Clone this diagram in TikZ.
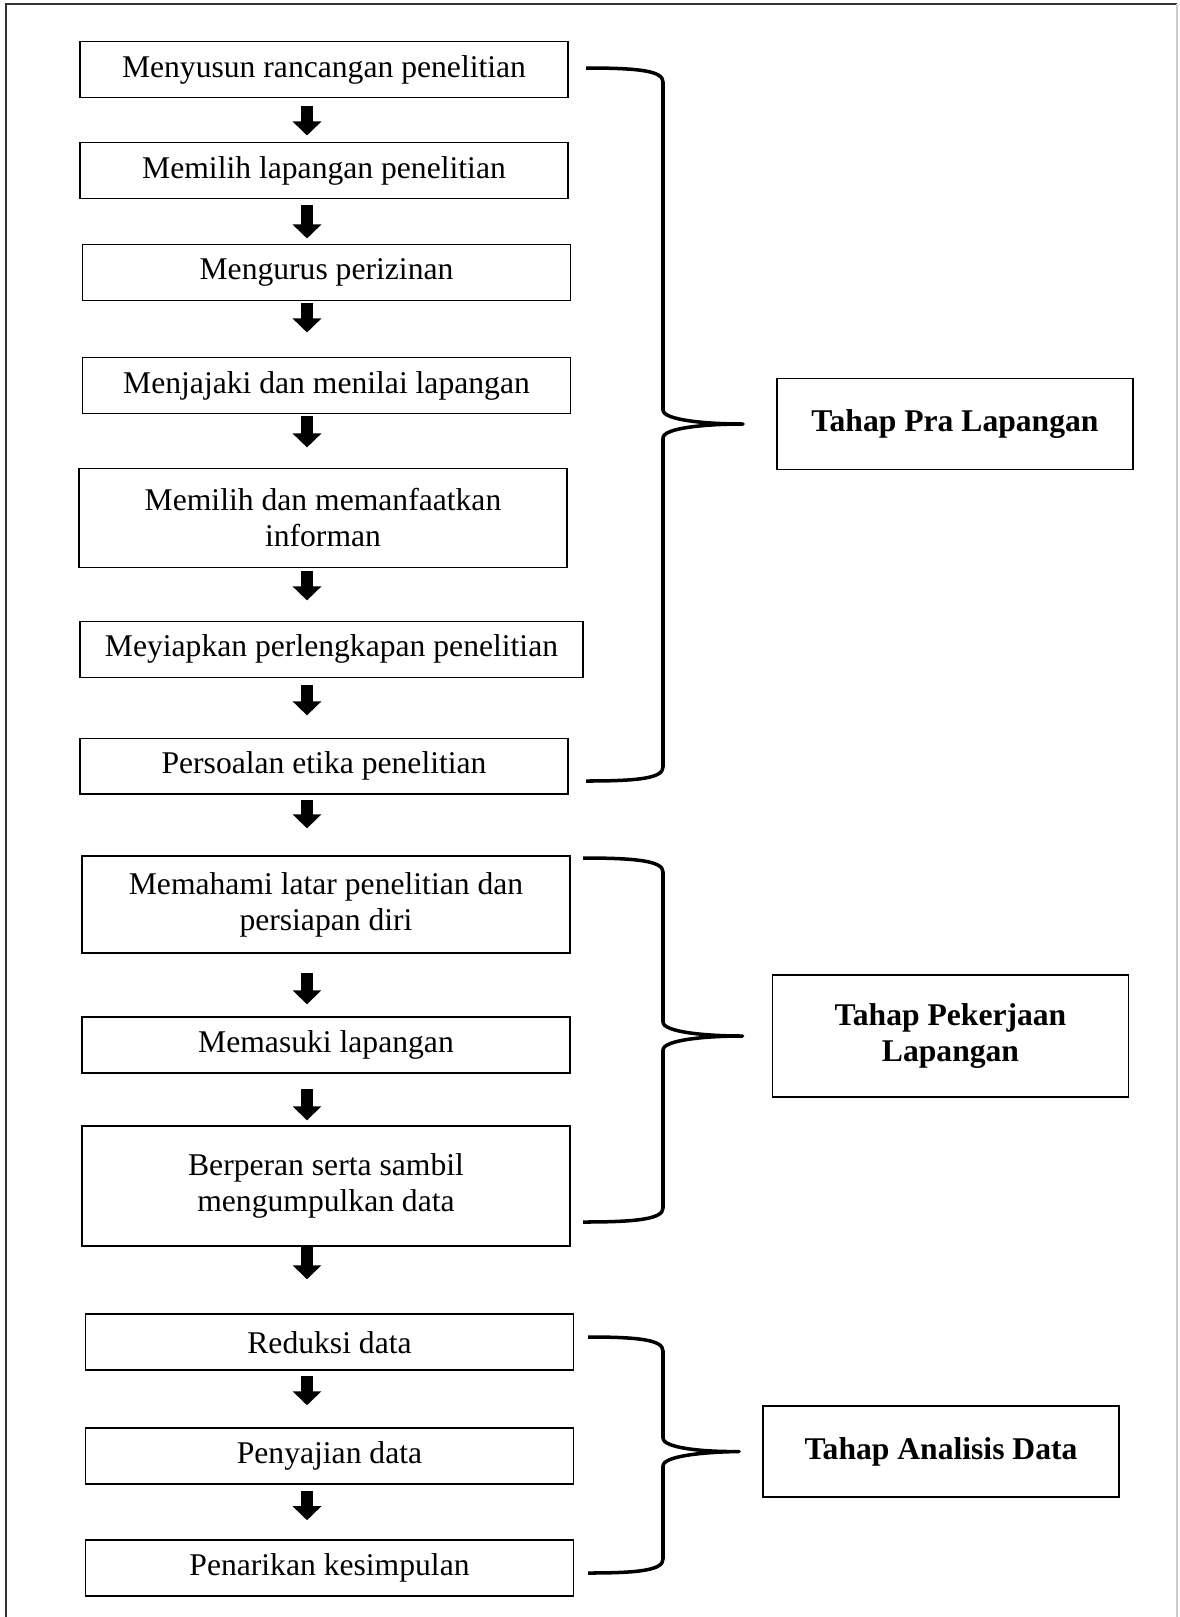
\documentclass[tikz,border=0pt]{standalone}
\usepackage{fontspec}
\setmainfont{Liberation Serif}
\usepackage{tikz}
\usetikzlibrary{arrows.meta, positioning, calc}

\begin{document}
\begin{tikzpicture}[x=0.02cm, y=-0.02cm, >=Stealth]
  \tikzstyle{proc} = [rectangle, draw, line width=1pt, minimum width=9.76cm, minimum height=1.12cm, inner sep=0pt, outer sep=0pt, align=center, font=\fontsize{18}{20.5}\selectfont]
  \tikzstyle{tahap} = [rectangle, draw, line width=1pt, minimum width=7.12cm, minimum height=1.82cm, inner sep=0pt, outer sep=0pt, align=center, font=\fontsize{18}{20.5}\selectfont\bfseries]
  \tikzstyle{downarrow} = [line width=0.24cm, -{Triangle[width=0.56cm, length=0.28cm]}]
  \tikzstyle{curly} = [line width=2pt, line join=round]

  \useasboundingbox (0,0) rectangle (1180,1617);
  % frame
  \draw[line width=0.6pt, black!80] (6,1640) -- (6,4) -- (1177,4);
  \draw[line width=0.6pt, black!20] (1177,4) -- (1177,1640);

  % left column
  \node [proc] (rancang) at (324,69.5) {Menyusun rancangan penelitian};
  \node [proc, below=0.9cm of rancang] (lapang) {Memilih lapangan penelitian};
  \node [proc, below=0.92cm of lapang, xshift=0.05cm] (izin) {Mengurus perizinan};
  \node [proc, below=1.14cm of izin] (jajak) {Menjajaki dan menilai lapangan};
  \node [proc, minimum height=1.98cm, below=1.1cm of jajak, xshift=-0.07cm] (informan) {Memilih dan memanfaatkan\\informan};
  \node [proc, minimum width=10.06cm, below=1.08cm of informan, xshift=0.17cm] (siap) {Meyiapkan perlengkapan penelitian};
  \node [proc, below=1.22cm of siap, xshift=-0.15cm] (etika) {Persoalan etika penelitian};
  \node [proc, minimum height=1.94cm, below=1.24cm of etika, xshift=0.04cm] (latar) {Memahami latar penelitian dan\\persiapan diri};
  \node [proc, below=1.28cm of latar] (masuk) {Memasuki lapangan};
  \node [proc, minimum height=2.4cm, below=1.06cm of masuk] (peran) {Berperan serta sambil\\mengumpulkan data};
  \node [proc, below=1.36cm of peran, xshift=0.07cm] (reduksi) {Reduksi data};
  \node [proc, below=1.16cm of reduksi] (saji) {Penyajian data};
  \node [proc, below=1.12cm of saji] (simpul) {Penarikan kesimpulan};

  % arrows
  \coordinate (ax) at (307,0);
  \draw[downarrow, shorten <=0.16cm, shorten >=0.14cm] (rancang.south -| ax) -- (lapang.north -| ax);
  \draw[downarrow, shorten <=0.14cm, shorten >=0.12cm] (lapang.south -| ax) -- (izin.north -| ax);
  \draw[downarrow, shorten <=0.06cm, shorten >=0.5cm] (izin.south -| ax) -- (jajak.north -| ax);
  \draw[downarrow, shorten <=0.06cm, shorten >=0.42cm] (jajak.south -| ax) -- (informan.north -| ax);
  \draw[downarrow, shorten <=0.08cm, shorten >=0.42cm] (informan.south -| ax) -- (siap.north -| ax);
  \draw[downarrow, shorten <=0.16cm, shorten >=0.46cm] (siap.south -| ax) -- (etika.north -| ax);
  \draw[downarrow, shorten <=0.12cm, shorten >=0.56cm] (etika.south -| ax) -- (latar.north -| ax);
  \draw[downarrow, shorten <=0.4cm, shorten >=0.26cm] (latar.south -| ax) -- (masuk.north -| ax);
  \draw[downarrow, shorten <=0.32cm, shorten >=0.12cm] (masuk.south -| ax) -- (peran.north -| ax);
  \draw[downarrow, shorten <=0cm, shorten >=0.7cm] (peran.south -| ax) -- (reduksi.north -| ax);
  \draw[downarrow, shorten <=0.12cm, shorten >=0.46cm] (reduksi.south -| ax) -- (saji.north -| ax);
  \draw[downarrow, shorten <=0.14cm, shorten >=0.4cm] (saji.south -| ax) -- (simpul.north -| ax);

  % stage labels
  \node [tahap] (pra) at (955,424) {Tahap Pra Lapangan};
  \node [tahap, minimum height=2.44cm] (kerja) at (950.5,1036) {Tahap Pekerjaan\\Lapangan};
  \node [tahap] (analisis) at (941,1451.5) {Tahap Analisis Data};

  \coordinate (tip1) at ([xshift=-0.68cm]pra.west);
  \coordinate (tip2) at ([xshift=-0.6cm]kerja.west);
  \coordinate (tip3) at ([xshift=-0.48cm]analisis.west);

  % braces
  \draw[curly] (586,68) .. controls (640,68) and (663,71) .. (663,82) -- (663,410)
    .. controls (663,420) and (705,424) .. (tip1)
    .. controls (705,424) and (663,428) .. (663,438) -- (663,767)
    .. controls (663,778) and (640,781) .. (586,781);
  \draw[curly] (583,858) .. controls (637,858) and (663,861) .. (663,872) -- (663,1022)
    .. controls (663,1032) and (705,1036) .. (tip2)
    .. controls (705,1036) and (663,1040) .. (663,1050) -- (663,1208)
    .. controls (663,1219) and (637,1222) .. (583,1222);
  \draw[curly] (588,1337) .. controls (640,1337) and (663,1340) .. (663,1351) -- (663,1438)
    .. controls (663,1448) and (703,1452) .. (tip3)
    .. controls (703,1452) and (663,1456) .. (663,1466) -- (663,1559)
    .. controls (663,1570) and (640,1573) .. (588,1573);
\end{tikzpicture}
\end{document}
